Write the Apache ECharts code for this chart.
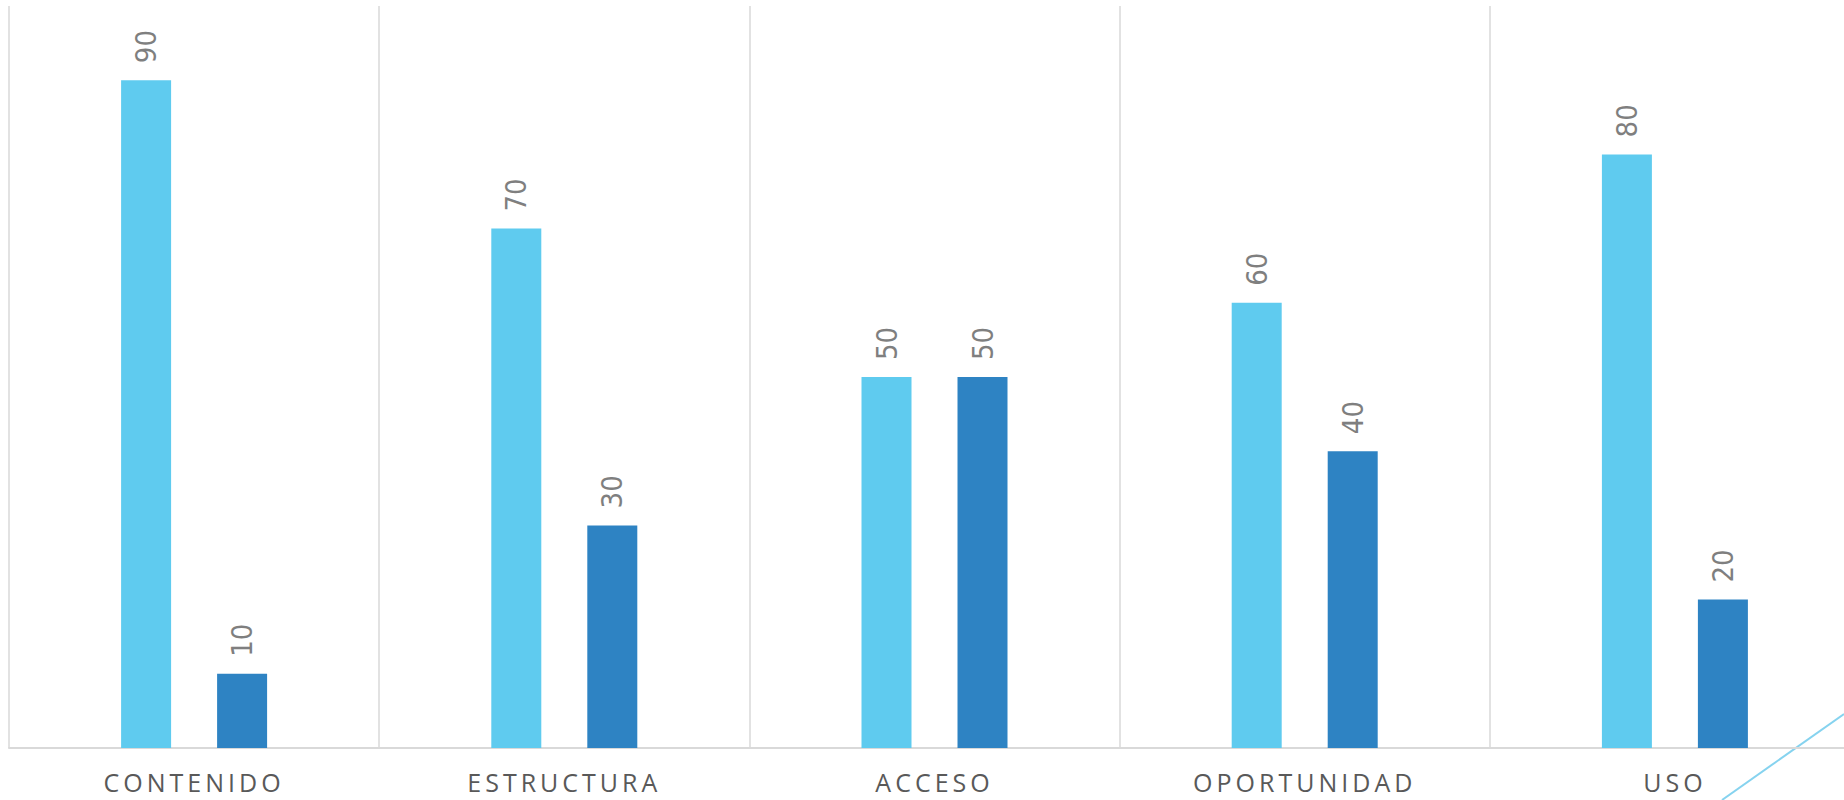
<!DOCTYPE html>
<html>
<head>
<meta charset="utf-8">
<script src="https://cdn.jsdelivr.net/npm/echarts@6/dist/echarts.min.js"></script>
<style>
  html, body { margin: 0; padding: 0; background: #fff; overflow: hidden; }
  #main { width: 1860px; height: 800px; }
</style>
</head>
<body>
<div id="main"></div>
<script>
// datos
const categories = ['CONTENIDO', 'ESTRUCTURA', 'ACCESO', 'OPORTUNIDAD', 'USO'];
const serie1 = [90, 70, 50, 60, 80];
const serie2 = [10, 30, 50, 40, 20];

const chart = echarts.init(document.getElementById('main'), null, { renderer: 'svg' });

const valueLabel = {
    show: true,
    position: 'top',
    rotate: 90,
    align: 'left',
    verticalAlign: 'middle',
    distance: 17,
    color: '#7f7f7f',
    fontSize: 29,
    fontFamily: '"Liberation Sans Narrow", "DejaVu Sans Condensed", sans-serif'
};

const option = {
    backgroundColor: '#fff',
    animation: false,
    // el grafico sigue mas alla del borde derecho
    grid: { left: 9, top: 6, right: 0, bottom: 52 },
    xAxis: {
        type: 'category',
        data: categories,
        axisLine: { show: true, lineStyle: { color: '#d9d9d9', width: 2 } },
        axisTick: { show: false },
        splitLine: { show: true, lineStyle: { color: '#d9d9d9', width: 1.5 } },
        axisLabel: {
            color: '#595959',
            fontSize: 25,
            fontFamily: '"Open Sans", sans-serif',
            margin: 21
        }
    },
    yAxis: {
        type: 'value',
        min: 0,
        max: 100,
        show: false,
        splitLine: { show: false }
    },
    series: [
        {
            name: 'Serie 1',
            type: 'bar',
            data: serie1,
            barWidth: 50,
            barGap: '92%',
            itemStyle: { color: '#5fcbef' },
            label: valueLabel
        },
        {
            name: 'Serie 2',
            type: 'bar',
            data: serie2,
            barWidth: 50,
            barGap: '92%',
            itemStyle: { color: '#2e83c3' },
            label: valueLabel
        }
    ],
    graphic: [
        {
            type: 'line',
            shape: { x1: 1722, y1: 800, x2: 1844, y2: 714 },
            style: { stroke: '#86d3ef', lineWidth: 2 }
        }
    ]
};

chart.setOption(option);

// espaciado de letras en las categorias
function spaceLabels() {
    document.querySelectorAll('#main text').forEach(t => {
        if (categories.indexOf(t.textContent.trim()) >= 0) {
            t.style.letterSpacing = '4px';
        }
    });
}
spaceLabels();
chart.on('finished', spaceLabels);
</script>
</body>
</html>
